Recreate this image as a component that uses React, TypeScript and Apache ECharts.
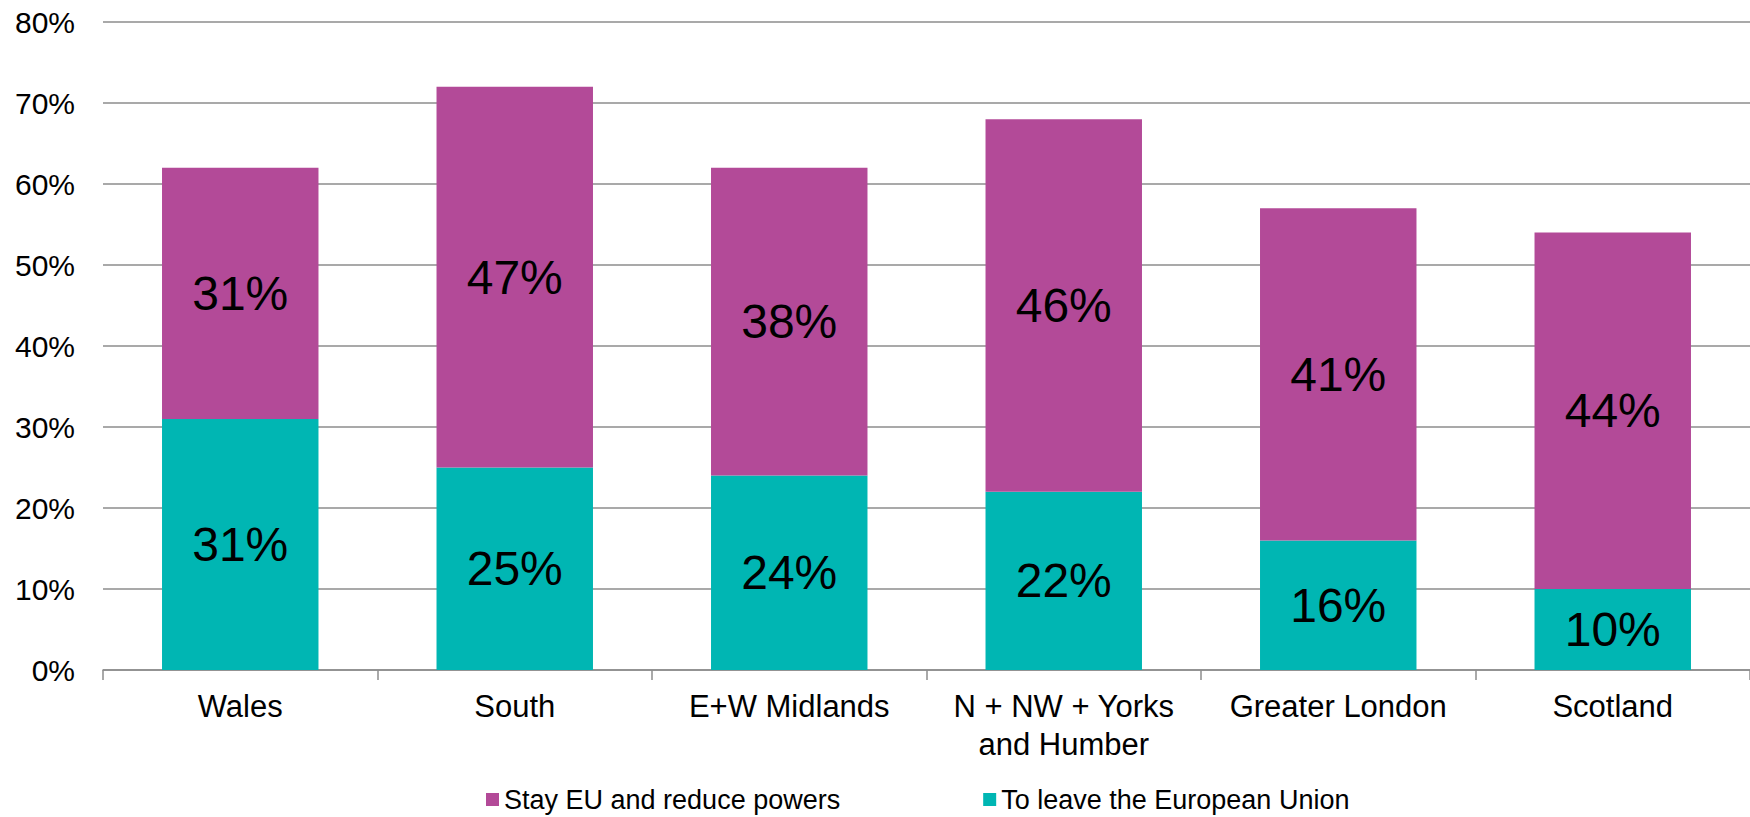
import React, { useEffect, useRef } from "react";
import * as echarts from "echarts";

const categories = ["Wales", "South", "E+W Midlands", "N + NW + Yorks\nand Humber", "Greater London", "Scotland"];
const leaveEU = [31, 25, 24, 22, 16, 10];
const stayReduce = [31, 47, 38, 46, 41, 44];
const seriesNames = ["Stay EU and reduce powers", "To leave the European Union"];

const FONT = "'Liberation Sans', Arial, sans-serif";

export default function App() {
  const ref = useRef<HTMLDivElement>(null);
  useEffect(() => {
    if (!ref.current) return;
    const chart = echarts.init(ref.current, undefined, { renderer: "svg" });
    chart.setOption({
      animation: false,
      textStyle: { fontFamily: FONT },
      grid: { left: 103, right: 0, top: 22, bottom: 147, containLabel: false },
      legend: {
        data: seriesNames,
        left: 481,
        top: 781,
        itemWidth: 13,
        itemHeight: 13,
        itemGap: 143,
        icon: "rect",
        textStyle: { fontSize: 27, color: "#000", fontFamily: FONT },
      },
      xAxis: {
        type: "category",
        data: categories,
        axisLine: { show: true, lineStyle: { color: "#8c8c8c", width: 1.5 } },
        axisTick: { show: true, length: 10, lineStyle: { color: "#8c8c8c", width: 1.5 } },
        axisLabel: { fontSize: 31, color: "#000", margin: 17, lineHeight: 38, fontFamily: FONT, interval: 0 },
      },
      yAxis: {
        type: "value",
        min: 0,
        max: 80,
        interval: 10,
        axisLine: { show: false },
        axisTick: { show: false },
        splitLine: { lineStyle: { color: "#8c8c8c", width: 1.5 } },
        axisLabel: { formatter: "{value}%", fontSize: 30, color: "#000", margin: 28, fontFamily: FONT },
      },
      series: [
        {
          name: seriesNames[1],
          type: "bar",
          stack: "total",
          data: leaveEU,
          barCategoryGap: "43%",
          itemStyle: { color: "#00B6B3" },
          label: { show: true, position: "inside", formatter: "{c}%", fontSize: 48, color: "#000", fontFamily: FONT },
        },
        {
          name: seriesNames[0],
          type: "bar",
          stack: "total",
          data: stayReduce,
          barCategoryGap: "43%",
          itemStyle: { color: "#B34A98" },
          label: { show: true, position: "inside", formatter: "{c}%", fontSize: 48, color: "#000", fontFamily: FONT },
        },
      ],
    });
    return () => chart.dispose();
  }, []);
  return <div ref={ref} style={{ position: "fixed", left: 0, top: 0, width: 1750, height: 817, background: "#fff" }} />;
}
